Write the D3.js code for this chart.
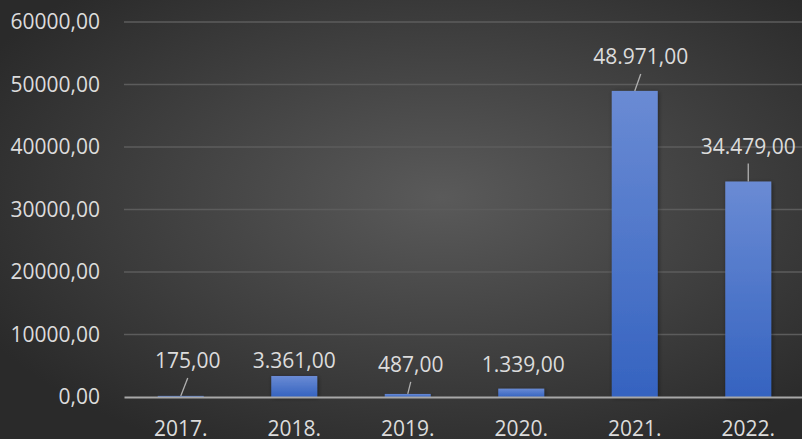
<!DOCTYPE html>
<html>
<head>
<meta charset="utf-8">
<script src="https://cdn.jsdelivr.net/npm/d3@7/dist/d3.min.js"></script>
<style>
  html, body { margin: 0; padding: 0; background: #2b2b2b; overflow: hidden; }
  svg { display: block; font-family: "Open Sans", sans-serif; }
</style>
</head>
<body>
<div id="chart"></div>
<script>
'use strict';
// chart data
const years = ["2017.", "2018.", "2019.", "2020.", "2021.", "2022."];
const values = [175, 3361, 487, 1339, 48971, 34479];
const valueLabels = ["175,00", "3.361,00", "487,00", "1.339,00", "48.971,00", "34.479,00"];
const yTicks = [0, 10000, 20000, 30000, 40000, 50000, 60000];

// label placement relative to top of bar (dx, dy of baseline) and leader line flag
const labelLayout = [
    { dx: 7, dy: -28, leader: true },
    { dx: 0, dy: -8, leader: false },
    { dx: 3, dy: -22, leader: true },
    { dx: 2, dy: -17, leader: false },
    { dx: 6, dy: -27, leader: true },
    { dx: 0, dy: -28, leader: true }
];

const W = 802, H = 439;
const margin = { left: 124, right: -3, top: 22, bottom: 42 };
const width = W - margin.left - margin.right;
const height = H - margin.top - margin.bottom;

const svg = d3.select("#chart").append("svg")
    .attr("width", W)
    .attr("height", H);

const defs = svg.append("defs");
// background radial gradient
const bg = defs.append("radialGradient")
    .attr("id", "bg")
    .attr("cx", "55%").attr("cy", "45%").attr("r", "65%");
bg.append("stop").attr("offset", "0%").attr("stop-color", "#5a5a5a");
bg.append("stop").attr("offset", "100%").attr("stop-color", "#2a2a2a");

// bar gradient
const barGrad = defs.append("linearGradient")
    .attr("id", "barGrad")
    .attr("x1", 0).attr("y1", 0).attr("x2", 0).attr("y2", 1);
barGrad.append("stop").attr("offset", "0%").attr("stop-color", "#6a8bd4");
barGrad.append("stop").attr("offset", "100%").attr("stop-color", "#3563c0");

const shadow = defs.append("filter").attr("id", "shadow")
    .attr("x", "-30%").attr("y", "-30%").attr("width", "160%").attr("height", "160%");
shadow.append("feDropShadow")
    .attr("dx", 1).attr("dy", 1).attr("stdDeviation", 2)
    .attr("flood-color", "#000").attr("flood-opacity", 0.45);

svg.append("rect")
    .attr("width", W).attr("height", H)
    .attr("fill", "url(#bg)");

const g = svg.append("g")
    .attr("transform", "translate(" + margin.left + "," + margin.top + ")");

const x = d3.scaleBand()
    .domain(years)
    .range([0, width])
    .paddingInner(0.595)
    .paddingOuter(0.2975);

const y = d3.scaleLinear()
    .domain([0, 60000])
    .range([height, 0]);

// gridlines
g.append("g")
    .selectAll("line")
    .data(yTicks.filter(function(d) { return d > 0; }))
    .enter().append("line")
    .attr("x1", 0).attr("x2", width)
    .attr("y1", function(d) { return y(d); })
    .attr("y2", function(d) { return y(d); })
    .attr("stroke", "#5c5c5c")
    .attr("stroke-width", 1.5);

// y axis labels
const yAxis = g.append("g")
    .call(d3.axisLeft(y).tickValues(yTicks).tickSize(0).tickPadding(24)
        .tickFormat(function(d) { return d + ",00"; }));
yAxis.select(".domain").remove();
yAxis.selectAll("text")
    .attr("fill", "#dcdcdc")
    .style("font-size", "21px")
    .style("font-family", "'Open Sans', sans-serif");

// bars
g.append("g")
    .selectAll("rect")
    .data(values)
    .enter().append("rect")
    .attr("x", function(d, i) { return x(years[i]); })
    .attr("y", function(d) { return y(d); })
    .attr("width", x.bandwidth())
    .attr("height", function(d) { return height - y(d); })
    .attr("fill", "url(#barGrad)")
    .attr("filter", "url(#shadow)");

// x axis
const xAxis = g.append("g")
    .attr("transform", "translate(0," + height + ")")
    .call(d3.axisBottom(x).tickSize(0).tickPadding(24));
xAxis.select(".domain")
    .attr("stroke", "#a8a8a8")
    .attr("stroke-width", 2);
xAxis.selectAll("text")
    .attr("fill", "#dcdcdc")
    .style("font-size", "21px")
    .style("font-family", "'Open Sans', sans-serif");

// data labels
const labels = g.append("g");
values.forEach(function(v, i) {
    const cx = x(years[i]) + x.bandwidth() / 2;
    const top = y(v);
    const lay = labelLayout[i];
    const lx = cx + lay.dx;
    const ly = top + lay.dy;
    labels.append("text")
        .attr("x", lx)
        .attr("y", ly)
        .attr("text-anchor", "middle")
        .attr("fill", "#dcdcdc")
        .style("font-size", "21px")
        .text(valueLabels[i]);
    if (lay.leader) {
        labels.append("line")
            .attr("x1", lx).attr("y1", ly + 10)
            .attr("x2", cx).attr("y2", top)
            .attr("stroke", "#b0b0b0")
            .attr("stroke-width", 1.3);
    }
});
</script>
</body>
</html>
